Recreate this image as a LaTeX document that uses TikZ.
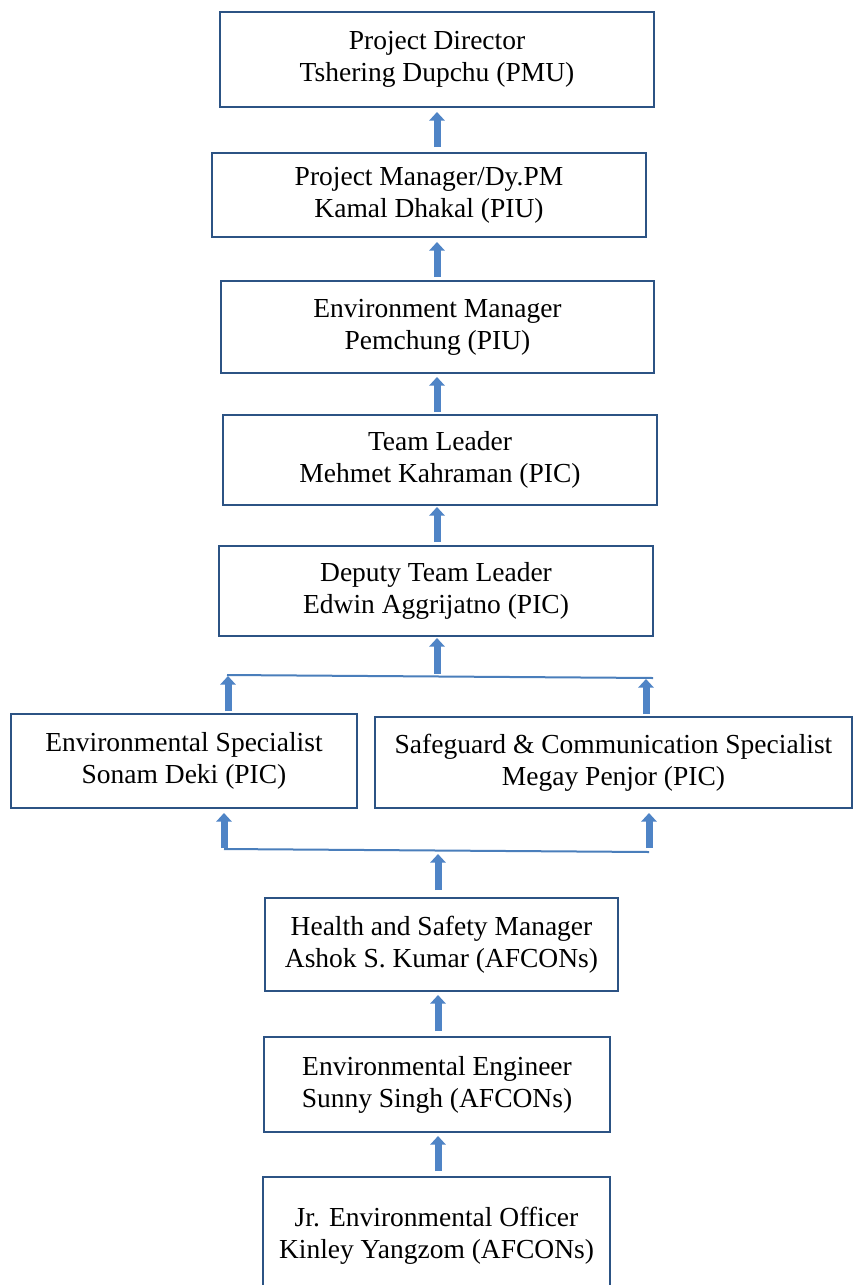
\documentclass[tikz,border=0pt]{standalone}
\usepackage{fontspec}
\setmainfont{Liberation Serif}
\usetikzlibrary{arrows.meta}
\definecolor{boxc}{HTML}{2C5384}
\definecolor{arrc}{HTML}{4F84C6}
\definecolor{linec}{HTML}{4A7EBB}
\begin{document}
\begin{tikzpicture}[x=1pt,y=-1pt,
  box/.style={draw=boxc, line width=2.6pt, fill=white, align=center,
    inner sep=0pt, outer sep=0pt, font=\fontsize{27.5}{32}\selectfont},
  blk/.style={draw=arrc, line width=7pt, -{Triangle[width=15pt,length=8.5pt]}},
  bar/.style={draw=linec, line width=2pt}]
\useasboundingbox[fill=white] (0,0) rectangle (854,1285);

\node[box, minimum width=434, minimum height=95] (B1) at (437,59.5) {Project Director\\Tshering Dupchu (PMU)};
\node[box, minimum width=434, minimum height=84] (B2) at (429,195) {Project Manager/Dy.PM\\Kamal Dhakal (PIU)};
\node[box, minimum width=433, minimum height=92] (B3) at (437.5,327) {Environment Manager\\Pemchung (PIU)};
\node[box, minimum width=434, minimum height=90] (B4) at (440,460) {Team Leader\\Mehmet Kahraman (PIC)};
\node[box, minimum width=434, minimum height=90] (B5) at (436,591) {Deputy Team Leader\\Edwin Aggrijatno (PIC)};
\node[box, minimum width=346, minimum height=94] (B6L) at (184,761) {Environmental Specialist\\Sonam Deki (PIC)};
\node[box, minimum width=477, minimum height=91] (B6R) at (613.5,762.5) {Safeguard \& Communication Specialist\\Megay Penjor (PIC)};
\node[box, minimum width=353, minimum height=93] (B7) at (441.5,944.5) {Health and Safety Manager\\Ashok S. Kumar (AFCONs)};
\node[box, minimum width=346, minimum height=95] (B8) at (437,1084.5) {Environmental Engineer\\Sunny Singh (AFCONs)};
\node[box, minimum width=347, minimum height=118] (B9) at (436.5,1236) {Jr. Environmental Officer\\Kinley Yangzom (AFCONs)};

\coordinate (TL) at (227,675);
\coordinate (TC) at (437,676.5);
\coordinate (TR) at (653,678);
\coordinate (TLa) at (228,675);
\coordinate (TRa) at (646,678);
\coordinate (BL) at (224,849);
\coordinate (BC) at (438,850.5);
\coordinate (BR) at (649,852);

% vertical chain
\draw[blk, shorten <=6pt, shorten >=5pt] (B2.north -| B1.south) -- (B1.south);
\draw[blk, shorten <=4pt, shorten >=5pt] (B3.north -| B1.south) -- (B2.south -| B1.south);
\draw[blk, shorten <=3pt, shorten >=4pt] (B4.north -| B1.south) -- (B3.south -| B1.south);
\draw[blk, shorten <=4pt, shorten >=2pt] (B5.north -| B1.south) -- (B4.south -| B1.south);
\draw[blk, shorten <=3pt, shorten >=2pt] (TC) -- (B5.south -| TC);

% upper bar
\draw[bar] (TL) -- (TR);
\draw[blk, shorten <=3pt, shorten >=1pt] (B6L.north -| TLa) -- (TLa);
\draw[blk, shorten <=3pt, shorten >=1pt] (B6R.north -| TRa) -- (TRa);

% lower bar
\draw[bar] (BL) -- (BR);
\draw[blk, shorten <=1pt, shorten >=5pt] (BL) -- (B6L.south -| BL);
\draw[blk, shorten <=4pt, shorten >=5pt] (BR) -- (B6R.south -| BR);
\draw[blk, shorten <=8pt, shorten >=3.5pt] (B7.north -| BC) -- (BC);

% lower chain
\draw[blk, shorten <=6pt, shorten >=4pt] (B8.north -| BC) -- (B7.south -| BC);
\draw[blk, shorten <=6pt, shorten >=4pt] (B9.north -| BC) -- (B8.south -| BC);
\end{tikzpicture}
\end{document}
